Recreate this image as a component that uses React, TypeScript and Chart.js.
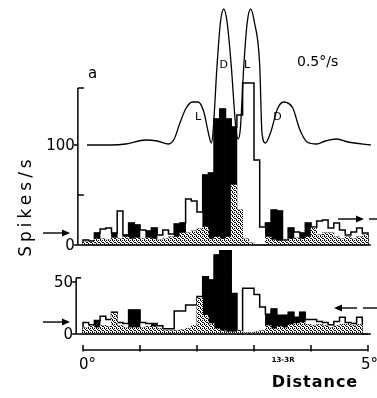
import React, { useEffect, useRef } from "react";
import { Chart, registerables } from "chart.js";

Chart.register(...registerables);

// bin width in degrees (50 bins from 0° to 5°)
const BIN_DEG = 0.1;

// upper histogram (spikes/s): open (white) and black responses
const upperOpen = [
  5, 3, 6, 16, 17, 7, 34, 8, 6, 7,
  15, 7, 6, 10, 15, 11, 8, 12, 46, 44,
  33, 18, 6, 8, 6, 8, 60, 130, 162, 162,
  85, 18, 8, 5, 4, 5, 6, 13, 6, 8,
  18, 24, 25, 17, 22, 15, 10, 13, 17, 12,
];
const upperBlack = [
  3, 4, 12, 6, 5, 12, 6, 10, 22, 20,
  6, 14, 17, 5, 6, 8, 21, 22, 12, 14,
  16, 70, 72, 126, 136, 126, 118, 35, 6, 2,
  0, 0, 22, 35, 34, 4, 17, 7, 12, 22,
  17, 10, 12, 12, 8, 6, 8, 6, 8, 10,
];

// lower histogram (spikes/s)
const lowerOpen = [
  11, 8, 6, 17, 14, 20, 11, 10, 6, 6,
  11, 10, 7, 8, 5, 5, 22, 22, 28, 28,
  36, 18, 10, 5, 3, 2, 2, 3, 44, 44,
  38, 26, 8, 5, 7, 6, 9, 10, 11, 14,
  14, 12, 11, 9, 12, 16, 11, 10, 16, 0,
];
const lowerBlack = [
  6, 9, 13, 8, 7, 21, 8, 6, 23, 23,
  6, 7, 10, 5, 3, 3, 3, 4, 5, 8,
  34, 55, 52, 76, 80, 80, 39, 3, 1, 1,
  2, 3, 19, 24, 18, 18, 21, 16, 21, 9,
  8, 9, 8, 6, 8, 9, 10, 8, 9, 0,
];

// stimulus profile drawn on the upper scale (baseline at 100)
const profileDeg = [
  0.07, 0.5, 0.75, 1.1, 1.3, 1.5, 1.6, 1.7, 1.81, 1.92,
  2.02, 2.12, 2.2, 2.25, 2.28, 2.35, 2.41, 2.47, 2.53, 2.6,
  2.68, 2.72, 2.76, 2.82, 2.88, 2.94, 3.01, 3.1, 3.14, 3.2,
  3.3, 3.41, 3.52, 3.68, 3.8, 3.93, 4.1, 4.25, 4.45, 4.65, 5.05,
];
const profileRate = [
  100, 100, 101, 105, 104, 101, 106, 122, 137, 143,
  143, 133, 112, 102, 112, 178, 222, 236, 222, 180,
  118, 106, 116, 178, 222, 236, 222, 180, 112, 102,
  114, 136, 143, 137, 116, 103, 101, 104, 106, 103, 100,
];

const upperTickValues = [0, 50, 100];
const upperTickLabels = ["0", "", "100"];
const lowerTickValues = [0, 50];
const lowerTickLabels = ["0", "50"];
const distanceTicks = [0, 1, 2, 3, 4, 5];
const distanceLabels = ["0°", "", "", "", "", "5°"];

// spontaneous-level arrows
const upperLeftArrow = 12;
const upperRightArrow = 26;
const lowerLeftArrow = 11.5;
const lowerRightArrow = 25;

const FONT = '"DejaVu Sans", sans-serif';

function barData(vals: number[]) {
  return vals.map((v, i) => ({ x: (i + 0.5) * BIN_DEG, y: v }));
}
function minData(a: number[], b: number[]) {
  return a.map((v, i) => ({ x: (i + 0.5) * BIN_DEG, y: Math.min(v, b[i]) }));
}
function outlineData(a: number[], b: number[]) {
  const pts: { x: number; y: number }[] = [{ x: 0, y: 0 }];
  a.forEach((v, i) => pts.push({ x: i * BIN_DEG, y: Math.max(v, b[i]) }));
  const n = a.length;
  pts.push({ x: n * BIN_DEG, y: Math.max(a[n - 1], b[n - 1]) });
  pts.push({ x: n * BIN_DEG, y: 0 });
  return pts;
}

function makeStipple(): any {
  const c = document.createElement("canvas");
  c.width = 4;
  c.height = 4;
  const g = c.getContext("2d")!;
  g.fillStyle = "#ffffff";
  g.fillRect(0, 0, 4, 4);
  g.fillStyle = "#000000";
  const dots = [[0, 0], [2, 0], [1, 1], [3, 2], [0, 3], [2, 2]];
  dots.forEach(([x, y]) => g.fillRect(x, y, 1, 1));
  return g.createPattern(c, "repeat");
}

const decor = {
  id: "decor",
  afterDraw(chart: any) {
    const ctx: CanvasRenderingContext2D = chart.ctx;
    const xs = chart.scales.x;
    const yu = chart.scales.yU;
    const yl = chart.scales.yL;
    const X = (v: number) => xs.getPixelForValue(v);
    const YU = (v: number) => yu.getPixelForValue(v);
    const YL = (v: number) => yl.getPixelForValue(v);
    ctx.save();
    ctx.strokeStyle = "#000";
    ctx.fillStyle = "#000";
    ctx.lineWidth = 1.5;
    const seg = (x1: number, y1: number, x2: number, y2: number) => {
      ctx.beginPath();
      ctx.moveTo(x1, y1);
      ctx.lineTo(x2, y2);
      ctx.stroke();
    };
    const arrow = (x1: number, x2: number, y: number) => {
      seg(x1, y, x2, y);
      const d = x2 > x1 ? 1 : -1;
      ctx.beginPath();
      ctx.moveTo(x2 + d * 2, y);
      ctx.lineTo(x2 - d * 6, y - 3.5);
      ctx.lineTo(x2 - d * 6, y + 3.5);
      ctx.closePath();
      ctx.fill();
    };

    // upper axis
    const ua = X(-0.09);
    seg(ua, YU(0), ua, YU(157));
    seg(ua, YU(157), ua + 6, YU(157));
    seg(ua, YU(50), ua + 6, YU(50));
    seg(ua - 4, YU(100), ua, YU(100));
    seg(ua - 4, YU(0), ua, YU(0));
    seg(ua, YU(0), X(5.05), YU(0));

    // lower axis
    const la = X(-0.12);
    seg(la, YL(0), la, YL(54));
    seg(la, YL(54), la + 5, YL(54));
    seg(la - 4, YL(50), la, YL(50));
    seg(la - 4, YL(0), la, YL(0));
    seg(la, YL(0), X(5.05), YL(0));

    // tick labels
    ctx.font = `15px ${FONT}`;
    ctx.textAlign = "right";
    ctx.textBaseline = "middle";
    upperTickValues.forEach((v, i) => {
      if (upperTickLabels[i]) ctx.fillText(upperTickLabels[i], ua - 3, YU(v) + 1);
    });
    lowerTickValues.forEach((v, i) => {
      if (lowerTickLabels[i]) ctx.fillText(lowerTickLabels[i], la - 3, YL(v) + 1);
    });

    // distance ruler
    const ry = YL(-15.4);
    seg(X(0), ry, X(5), ry);
    distanceTicks.forEach((d) => seg(X(d), ry - 5, X(d), ry + 1.5));
    ctx.font = `15px ${FONT}`;
    ctx.textBaseline = "middle";
    distanceTicks.forEach((d, i) => {
      if (!distanceLabels[i]) return;
      ctx.textAlign = i === 0 ? "left" : "right";
      ctx.fillText(distanceLabels[i], i === 0 ? X(d) - 4 : X(d) + 10, ry + 15);
    });
    ctx.font = `bold 7px ${FONT}`;
    ctx.textAlign = "center";
    ctx.fillText("13-3R", X(3.51), ry + 10);

    ctx.font = `bold 16px ${FONT}`;
    (ctx as any).letterSpacing = "1px";
    ctx.textAlign = "center";
    ctx.fillText("Distance", X(4.07), 383);

    // y title
    ctx.save();
    ctx.translate(27, 206);
    ctx.rotate(-Math.PI / 2);
    ctx.font = `17px ${FONT}`;
    (ctx as any).letterSpacing = "4px";
    ctx.textAlign = "center";
    ctx.fillText("Spikes/s", 0, 0);
    ctx.restore();
    (ctx as any).letterSpacing = "0px";

    // panel letter and speed
    ctx.font = `15px ${FONT}`;
    ctx.textAlign = "left";
    ctx.fillText("a", 88, 74);
    ctx.font = `14px ${FONT}`;
    ctx.fillText("0.5°/s", 297, 62);

    // profile labels
    ctx.font = `11px ${FONT}`;
    ctx.textAlign = "center";
    ctx.fillText("D", X(2.47), YU(180));
    ctx.fillText("L", X(2.88), YU(180));
    ctx.fillText("L", X(2.02), YU(128));
    ctx.fillText("D", X(3.41), YU(128));

    // arrows
    ctx.lineWidth = 1.4;
    arrow(43, 68, YU(upperLeftArrow));
    arrow(338, 362, YU(upperRightArrow));
    seg(369, YU(upperRightArrow), 377, YU(upperRightArrow));
    arrow(43, 68, YL(lowerLeftArrow));
    arrow(357, 336, YL(lowerRightArrow));
    seg(363, YL(lowerRightArrow), 377, YL(lowerRightArrow));
    ctx.restore();
  },
};

export default function App() {
  const ref = useRef<HTMLCanvasElement>(null);
  useEffect(() => {
    const canvas = ref.current!;
    const stipple = makeStipple();
    const common = {
      grouped: false,
      barPercentage: 1,
      categoryPercentage: 1,
      borderWidth: 0,
    };
    const chart = new Chart(canvas, {
      type: "bar",
      data: {
        datasets: [
          {
            type: "line",
            label: "profile",
            data: profileDeg.map((x, i) => ({ x, y: profileRate[i] })),
            yAxisID: "yU",
            borderColor: "#000",
            borderWidth: 1.3,
            pointRadius: 0,
            fill: false,
            cubicInterpolationMode: "monotone",
            order: -1,
          } as any,
          { ...common, label: "upper common", data: minData(upperOpen, upperBlack), yAxisID: "yU", backgroundColor: stipple, order: 0 } as any,
          { ...common, label: "upper black", data: barData(upperBlack), yAxisID: "yU", backgroundColor: "#000", order: 1 } as any,
          {
            type: "line",
            label: "upper open",
            data: outlineData(upperOpen, upperBlack),
            yAxisID: "yU",
            stepped: true,
            borderColor: "#000",
            borderWidth: 1.5,
            backgroundColor: "#fff",
            fill: "origin",
            pointRadius: 0,
            order: 2,
          } as any,
          { ...common, label: "lower common", data: minData(lowerOpen, lowerBlack), yAxisID: "yL", backgroundColor: stipple, order: 0 } as any,
          { ...common, label: "lower black", data: barData(lowerBlack), yAxisID: "yL", backgroundColor: "#000", order: 1 } as any,
          {
            type: "line",
            label: "lower open",
            data: outlineData(lowerOpen, lowerBlack),
            yAxisID: "yL",
            stepped: true,
            borderColor: "#000",
            borderWidth: 1.5,
            backgroundColor: "#fff",
            fill: "origin",
            pointRadius: 0,
            order: 2,
          } as any,
        ],
      },
      options: {
        responsive: false,
        animation: false,
        devicePixelRatio: 1,
        layout: { padding: 0 },
        plugins: { legend: { display: false }, tooltip: { enabled: false }, title: { display: false } },
        scales: {
          x: { type: "linear", min: -83 / 57, max: -83 / 57 + 377 / 57, display: false, offset: false },
          yU: { type: "linear", min: -153, max: 245, display: false },
          yL: { type: "linear", min: -64 / 1.04, max: 334 / 1.04, display: false },
        },
      } as any,
      plugins: [decor],
    });
    return () => chart.destroy();
  }, []);
  return (
    <div style={{ position: "fixed", left: 0, top: 0, width: 377, height: 398, background: "#fff" }}>
      <canvas ref={ref} width={377} height={398} style={{ display: "block" }} />
    </div>
  );
}
